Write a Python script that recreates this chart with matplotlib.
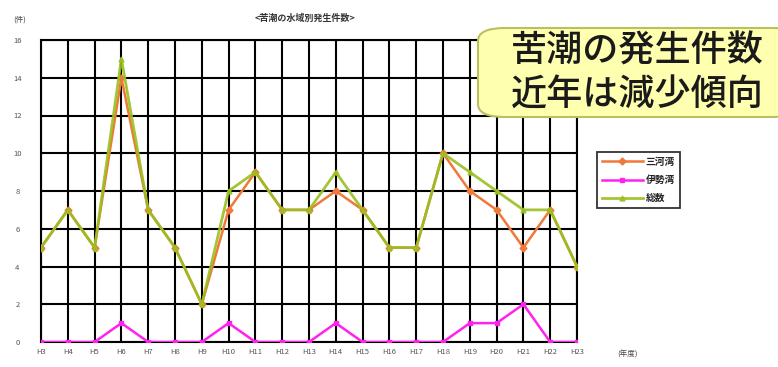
import matplotlib
matplotlib.use("Agg")
import matplotlib.pyplot as plt
from matplotlib.patches import FancyBboxPatch

plt.rcParams['font.family'] = ['Noto Sans CJK JP', 'DejaVu Sans']

years = ["H3", "H4", "H5", "H6", "H7", "H8", "H9", "H10", "H11", "H12", "H13",
         "H14", "H15", "H16", "H17", "H18", "H19", "H20", "H21", "H22", "H23"]
mikawa = [5, 7, 5, 14, 7, 5, 2, 7, 9, 7, 7, 8, 7, 5, 5, 10, 8, 7, 5, 7, 4]
ise = [0, 0, 0, 1, 0, 0, 0, 1, 0, 0, 0, 1, 0, 0, 0, 0, 1, 1, 2, 0, 0]
total = [5, 7, 5, 15, 7, 5, 2, 8, 9, 7, 7, 9, 7, 5, 5, 10, 9, 8, 7, 7, 4]
series_names = ["三河湾", "伊勢湾", "総数"]
yticks = [0, 2, 4, 6, 8, 10, 12, 14, 16]

fig = plt.figure(figsize=(7.78, 3.67), dpi=100)
ax = fig.add_axes([41/778, 1-342/367, (577-41)/778, (342-40)/367])

x = list(range(len(years)))
l1, = ax.plot(x, mikawa, color='#F07838', lw=1.8, marker='D', ms=3.5, zorder=3)
l2, = ax.plot(x, ise, color='#FF22EE', lw=1.8, marker='s', ms=3.5, zorder=3)
l3, = ax.plot(x, total, color='#99C020', lw=2.0, marker='^', ms=3.5, zorder=4, alpha=0.9)

ax.set_xlim(0, len(years)-1)
ax.set_ylim(0, 16)
ax.set_xticks(x)
ax.set_xticklabels(years, fontsize=5.5, color='#555555')
ax.set_yticks(yticks)
ax.set_yticklabels([str(v) for v in yticks], fontsize=5.5, color='#555555', ha='center')
ax.tick_params(axis='y', length=0, pad=17)
ax.tick_params(axis='x', length=0, pad=4)
ax.grid(True, color='black', lw=1.5, zorder=1)
ax.set_axisbelow(True)
for s in ax.spines.values():
    s.set_linewidth(1.5)
    s.set_color('black')

fig.text(20/778, 1-20/367, "(件)", fontsize=5.5, color='#444444', ha='center', va='center')
fig.text(305/778, 1-18/367, "<苦潮の水域別発生件数>", fontsize=6.5, color='#333333',
         ha='center', va='center', weight='bold')
fig.text(627/778, 1-355/367, "(年度)", fontsize=5.5, color='#444444', ha='center', va='center')

leg = fig.legend([l1, l2, l3], series_names, loc='upper left',
                 bbox_to_anchor=(597/778, 1-152/367), fontsize=7,
                 frameon=True, fancybox=False, edgecolor='black',
                 handlelength=4.2, borderpad=0.5, labelspacing=0.85,
                 handletextpad=0.3, borderaxespad=0)
leg.get_frame().set_linewidth(1.3)
for t in leg.get_texts():
    t.set_weight('bold')
    t.set_color('#222222')

box = FancyBboxPatch((478/778, 1-117/367), (800-478)/778, (117-28)/367,
                     boxstyle="round,pad=0,rounding_size=0.035",
                     transform=fig.transFigure, facecolor='#FFFFB0',
                     edgecolor='#B8C060', lw=1.5, zorder=10, clip_on=False)
fig.patches.append(box)
fig.text(637/778, 1-52/367, "苦潮の発生件数", fontsize=26, color='#1a1a1a',
         ha='center', va='center', zorder=11, weight='medium')
fig.text(637/778, 1-96/367, "近年は減少傾向", fontsize=26, color='#1a1a1a',
         ha='center', va='center', zorder=11, weight='medium')

fig.savefig("out.png", dpi=100)
